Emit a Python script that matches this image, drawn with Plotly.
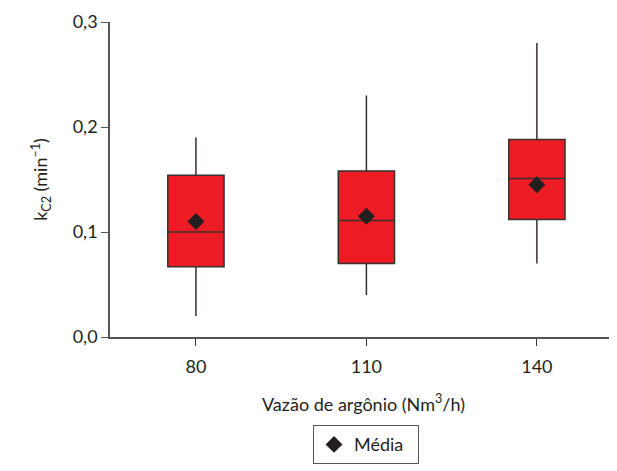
import plotly.graph_objects as go

categories = ["80", "110", "140"]
lower_whisker = [0.020, 0.040, 0.070]
q1_values = [0.067, 0.070, 0.112]
median_values = [0.100, 0.111, 0.151]
q3_values = [0.154, 0.158, 0.188]
upper_whisker = [0.190, 0.230, 0.280]
mean_values = [0.110, 0.115, 0.145]

y_tick_vals = [0.0, 0.1, 0.2, 0.3]
y_tick_text = ["0,0", "0,1", "0,2", "0,3"]

FONT = "Lato, 'Open Sans', sans-serif"
DARK = "#3a2f30"

fig = go.Figure()
fig.add_trace(go.Box(
    x=categories,
    q1=q1_values, median=median_values, q3=q3_values,
    lowerfence=lower_whisker, upperfence=upper_whisker,
    fillcolor="#ED1C24",
    line=dict(color=DARK, width=1.5),
    whiskerwidth=0,
    width=0.33,
    showlegend=False,
    hoverinfo="skip",
))
fig.add_trace(go.Scatter(
    x=categories, y=mean_values,
    mode="markers",
    marker=dict(symbol="diamond", size=13, color="#231f20"),
    name="Média&nbsp;&nbsp;",
))

fig.update_layout(
    width=609, height=463,
    margin=dict(l=102, r=0, t=14, b=134),
    paper_bgcolor="white", plot_bgcolor="white",
    font=dict(family=FONT, size=18, color="#231f20"),
    showlegend=True,
    legend=dict(
        orientation="h",
        x=0.505, xanchor="center",
        y=-0.28, yanchor="top",
        bordercolor="#555555", borderwidth=1,
        font=dict(size=18),
        itemwidth=30,
    ),
    xaxis=dict(
        type="category",
        range=[-0.504, 2.47],
        showline=True, linecolor="#555555", linewidth=1.5,
        ticks="outside", ticklen=7, tickcolor="#333333",
        ticklabelstandoff=6,
        showgrid=False, zeroline=False,
        title=dict(text="Vazão de argônio (Nm<sup>3</sup>/h)", standoff=22, font=dict(size=18)),
    ),
    yaxis=dict(
        range=[0, 0.3],
        tickvals=y_tick_vals, ticktext=y_tick_text,
        showline=True, linecolor="#555555", linewidth=1.5,
        ticks="outside", ticklen=7, tickcolor="#555555",
        showgrid=False, zeroline=False,
        title=dict(text="k<sub>C2</sub> (min<sup>–1</sup>)", standoff=20, font=dict(size=18)),
    ),
)

fig.write_html("out.html")
